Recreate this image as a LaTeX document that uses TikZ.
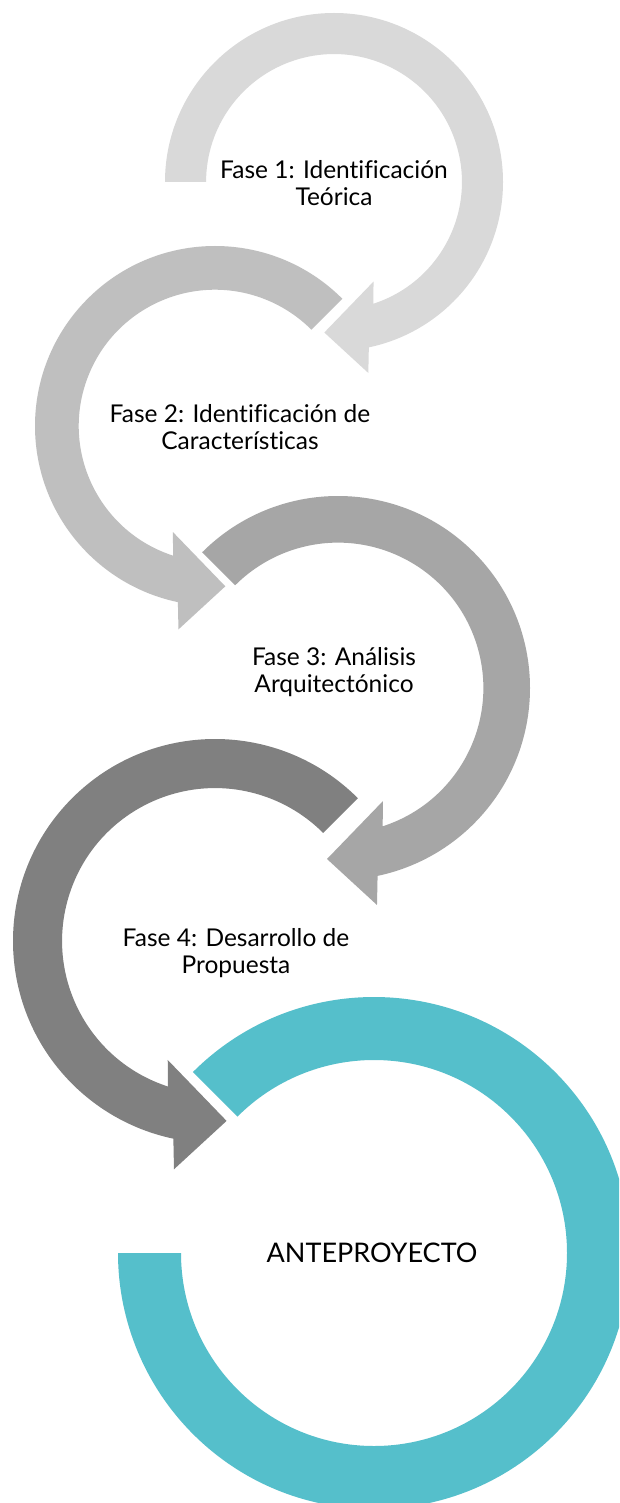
\documentclass[tikz,border=0pt]{standalone}
\usepackage{fontspec}
\setmainfont[Ligatures=NoCommon]{Lato}
\definecolor{ringA}{HTML}{D9D9D9}
\definecolor{ringB}{HTML}{BFBFBF}
\definecolor{ringC}{HTML}{A6A6A6}
\definecolor{ringD}{HTML}{808080}
\definecolor{ringE}{HTML}{55BFCB}
% #1 cx, #2 cy (pixels, y down), #3 outer radius, #4 start angle (local), #5 xscale (1 or -1), #6 colour
\newcommand\ringarrow[6]{%
  \begin{scope}[shift={(#1,-#2)}, xscale=#5]
    \fill[#6] (#4:#3) arc[start angle=#4, end angle=-78.1, radius=#3]
      -- ({0.203*#3},{-1.130*#3}) -- ({-0.0573*#3},{-0.8906*#3}) -- ({0.234*#3},{-0.589*#3})
      -- (-72.1:{0.757*#3}) arc[start angle=-72.1, end angle=#4, radius={0.757*#3}] -- cycle;
  \end{scope}}
\tikzset{
  lbl/.style={align=center, text=black, inner sep=0pt, font=\fontsize{24.5}{27}\selectfont},
  lblbig/.style={align=center, text=black, inner sep=0pt, font=\fontsize{27}{30}\selectfont}
}
\begin{document}
\begin{tikzpicture}[x=1pt,y=1pt]
  \useasboundingbox (0,0) rectangle (619,-1503);
  \fill[white] (0,0) rectangle (619,-1503);
  \clip (0,0) rectangle (619,-1503);
  \ringarrow{334}{182}{169}{180}{1}{ringA}
  \ringarrow{215}{426}{180}{135}{-1}{ringB}
  \ringarrow{338}{688}{192}{135}{1}{ringC}
  \ringarrow{215}{941}{202}{135}{-1}{ringD}
  \begin{scope}[shift={(374,-1253)}]
    \fill[ringE] (135:256) arc[start angle=135, end angle=-180, radius=256]
      -- (180:193) arc[start angle=-180, end angle=135, radius=193] -- cycle;
  \end{scope}
  \node[lbl] (l1) at (334,-183) {Fase 1: Identificación\\Teórica};
  \node[lbl] (l2) at (240,-427) {Fase 2: Identificación de\\Características};
  \node[lbl] (l3) at (334,-672) {Fase 3: Análisis\\Arquitectónico};
  \node[lbl] (l4) at (236,-953) {Fase 4: Desarrollo de\\Propuesta};
  \node[lblbig] (l5) at (372,-1253) {ANTEPROYECTO};
\end{tikzpicture}
\end{document}
